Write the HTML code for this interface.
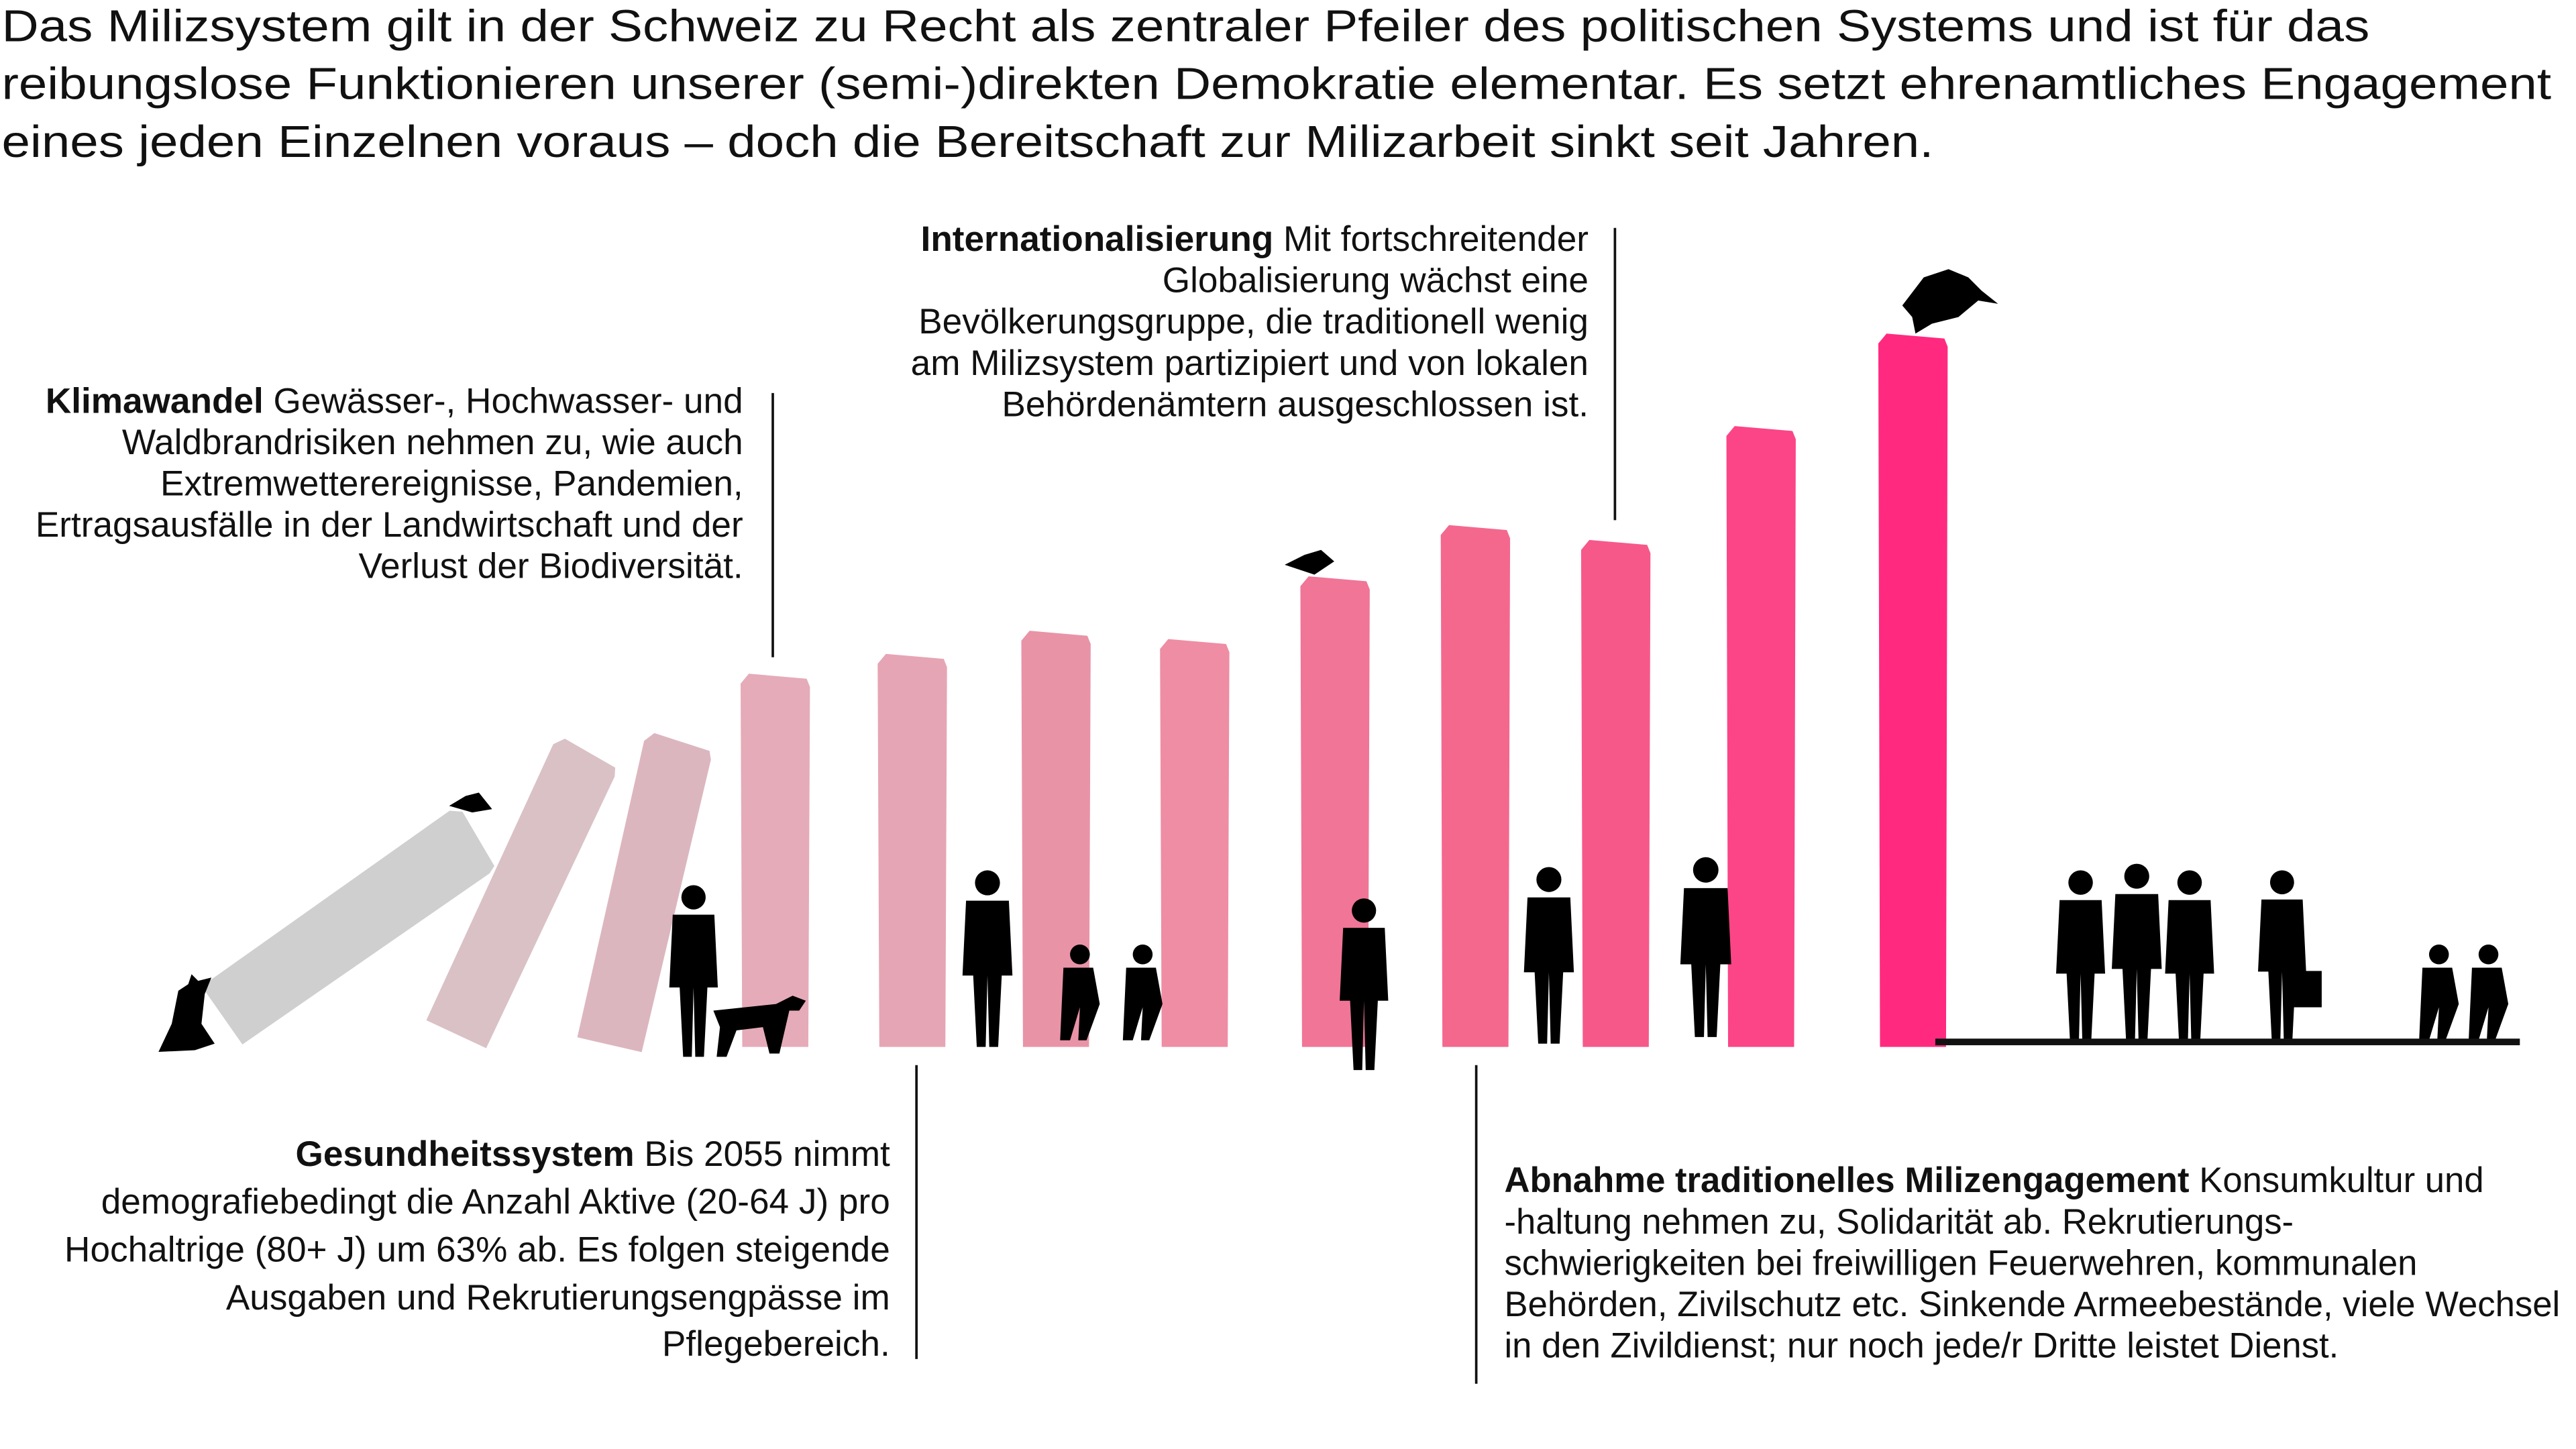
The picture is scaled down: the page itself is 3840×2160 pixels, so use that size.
<!DOCTYPE html>
<html><head><meta charset="utf-8">
<style>
html,body{margin:0;padding:0;background:#fff;width:3840px;height:2160px;overflow:hidden}
svg{display:block}
text{font-family:"Liberation Sans","DejaVu Sans",sans-serif;fill:#111}
</style></head>
<body>
<svg id="chart" width="3840" height="2160" viewBox="0 0 1560 877.5" xmlns="http://www.w3.org/2000/svg">
<g font-size="27">
<text x="1" y="25" textLength="1434" lengthAdjust="spacingAndGlyphs">Das Milizsystem gilt in der Schweiz zu Recht als zentraler Pfeiler des politischen Systems und ist für das</text>
<text x="1" y="60" textLength="1544" lengthAdjust="spacingAndGlyphs">reibungslose Funktionieren unserer (semi-)direkten Demokratie elementar. Es setzt ehrenamtliches Engagement</text>
<text x="1" y="95" textLength="1170" lengthAdjust="spacingAndGlyphs">eines jeden Einzelnen voraus – doch die Bereitschaft zur Milizarbeit sinkt seit Jahren.</text>
</g>

<g id="bars"></g>
<g id="figs"></g>
<line x1="1172" y1="631" x2="1526" y2="631" stroke="#111" stroke-width="4"/>

<g font-size="21.6" text-anchor="end">
<text x="450" y="250"><tspan font-weight="bold">Klimawandel</tspan> Gewässer-, Hochwasser- und</text>
<text x="450" y="275">Waldbrandrisiken nehmen zu, wie auch</text>
<text x="450" y="300">Extremwetterereignisse, Pandemien,</text>
<text x="450" y="325">Ertragsausfälle in der Landwirtschaft und der</text>
<text x="450" y="350">Verlust der Biodiversität.</text>
</g>
<line x1="468" y1="238" x2="468" y2="398" stroke="#111" stroke-width="1.5"/>

<g font-size="21.6" text-anchor="end">
<text x="962" y="152"><tspan font-weight="bold">Internationalisierung</tspan> Mit fortschreitender</text>
<text x="962" y="177">Globalisierung wächst eine</text>
<text x="962" y="202">Bevölkerungsgruppe, die traditionell wenig</text>
<text x="962" y="227">am Milizsystem partizipiert und von lokalen</text>
<text x="962" y="252">Behördenämtern ausgeschlossen ist.</text>
</g>
<line x1="978" y1="138" x2="978" y2="315" stroke="#111" stroke-width="1.5"/>

<g font-size="21.6" text-anchor="end">
<text x="539" y="706"><tspan font-weight="bold">Gesundheitssystem</tspan> Bis 2055 nimmt</text>
<text x="539" y="735">demografiebedingt die Anzahl Aktive (20-64 J) pro</text>
<text x="539" y="764">Hochaltrige (80+ J) um 63% ab. Es folgen steigende</text>
<text x="539" y="793">Ausgaben und Rekrutierungsengpässe im</text>
<text x="539" y="821">Pflegebereich.</text>
</g>
<line x1="555" y1="645" x2="555" y2="823" stroke="#111" stroke-width="1.5"/>

<g font-size="21.4">
<text x="911" y="722"><tspan font-weight="bold">Abnahme traditionelles Milizengagement</tspan> Konsumkultur und</text>
<text x="911" y="747">-haltung nehmen zu, Solidarität ab. Rekrutierungs-</text>
<text x="911" y="772">schwierigkeiten bei freiwilligen Feuerwehren, kommunalen</text>
<text x="911" y="797">Behörden, Zivilschutz etc. Sinkende Armeebestände, viele Wechsel</text>
<text x="911" y="822">in den Zivildienst; nur noch jede/r Dritte leistet Dienst.</text>
</g>
<line x1="894" y1="645" x2="894" y2="838" stroke="#111" stroke-width="1.5"/>
</svg>
<script>
// pillar data: length (units) and tilt (degrees from vertical, positive = leaning right)
const pillarLengths = [190, 190, 190, 226, 238, 252, 247, 285, 316, 307, 376, 432];
const pillarTilts = [55, 25, 13, 0, 0, 0, 0, 0, 0, 0, 0, 0];
const pillarColors = ["#cfcfcf","#d9c1c6","#dcb6bf","#e5abb9","#e6a5b4","#e993a7","#ee8da3","#f07596","#f4688e","#f7588a","#fb4586","#ff2a7f"];
const pillarCenterX = [212, 316, 390, 469, 552, 639, 723, 808, 893, 978, 1066, 1158];
const pillarCenterY = [560, 540, 540, null, null, null, null, null, null, null, null, null];
const baseY = 634, pillarW = 43;
const NS = "http://www.w3.org/2000/svg";
const bars = document.getElementById("bars");
pillarLengths.forEach((len, i) => {
  const r = document.createElementNS(NS, "path");
  const w = i === 0 ? 46 : pillarW;
  const hw = w / 2, hl = len / 2;
  r.setAttribute("d", `M${-hw+2},${hl} L${-hw+1},${-hl+6} L${-hw+6},${-hl} L${hw-2},${-hl+3} L${hw},${-hl+8} L${hw-1},${hl} Z`);
  r.setAttribute("fill", pillarColors[i]);
  const cy = pillarCenterY[i] === null ? baseY - hl : pillarCenterY[i];
  r.setAttribute("transform", `translate(${pillarCenterX[i]},${cy}) rotate(${pillarTilts[i]})`);
  
  
  bars.appendChild(r);
});

// silhouettes (x, bottom y, height)
const peopleX = [420, 598, 826, 938, 1033, 1260, 1294, 1326, 1382];
const peopleH = [105, 108, 105, 108, 110, 106, 108, 106, 104];
const peopleBottom = [640, 634, 648, 632, 628, 632, 630, 632, 630];
const figs = document.getElementById("figs");
peopleX.forEach((x, i) => {
  const h = peopleH[i], b = peopleBottom[i];
  const g = document.createElementNS(NS, "g");
  g.setAttribute("fill", "#000");
  const s = h / 100;
  g.innerHTML = `<circle cx="${x}" cy="${b-92*s}" r="${7*s}"/>
  <path d="M${x-12*s},${b-82*s} L${x+12*s},${b-82*s} L${x+14*s},${b-40*s} L${x+8*s},${b-40*s} L${x+6*s},${b} L${x+1*s},${b} L${x},${b-40*s} L${x-1*s},${b} L${x-6*s},${b} L${x-8*s},${b-40*s} L${x-14*s},${b-40*s} Z"/>`;
  
  
  figs.appendChild(g);
});
const kidsX = [652, 690, 1475, 1505];
kidsX.forEach((x, i) => {
  const g = document.createElementNS(NS, "g");
  const b = 630;
  g.innerHTML = `<circle cx="${x+2}" cy="${b-52}" r="6"/><path d="M${x-8},${b-44} L${x+10},${b-44} L${x+14},${b-22} L${x+6},${b} L${x+1},${b} L${x+2},${b-20} L${x-4},${b} L${x-10},${b} Z"/>`;
  
  
  figs.appendChild(g);
});
const extra = document.createElementNS(NS, "g");


extra.innerHTML = `
<path d="M96,637 L104,620 L108,600 L114,596 L116,590 L120,594 L128,592 L124,602 L122,620 L130,632 L118,636 Z"/>
<path d="M432,612 L470,608 L480,603 L488,606 L484,612 L478,612 L472,638 L466,638 L462,622 L446,624 L440,640 L434,640 L436,622 Z"/>
<path d="M272,488 L282,482 L290,480 L298,490 L286,492 Z"/>
<path d="M778,342 L790,336 L800,333 L808,340 L796,348 Z"/>
<path d="M1152,185 L1165,168 L1180,163 L1192,168 L1200,176 L1210,184 L1198,182 L1186,192 L1170,196 L1160,202 L1158,192 Z"/>
<rect x="1386" y="588" width="20" height="22"/>`;
figs.appendChild(extra);
</script>
</body></html>
